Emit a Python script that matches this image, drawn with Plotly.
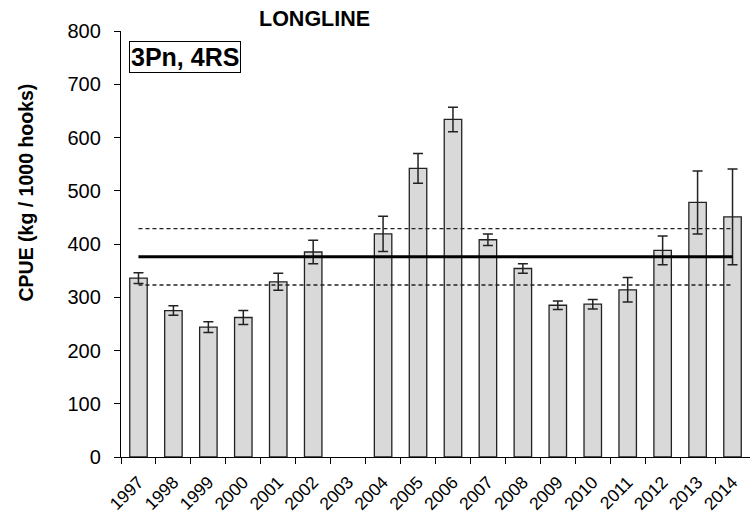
import plotly.graph_objects as go

years = ["1997", "1998", "1999", "2000", "2001", "2002", "2003", "2004", "2005",
         "2006", "2007", "2008", "2009", "2010", "2011", "2012", "2013", "2014"]
cpue = [336, 275, 244, 262, 329, 385, None, 419, 542,
        634, 408, 354, 285, 287, 314, 388, 478, 451]
err = [10, 9, 10, 13, 16, 22, None, 33, 28,
       23, 11, 9, 8, 9, 23, 27, 59, 90]
mean_cpue = 376
ci_upper = 429
ci_lower = 323

FONT = "Liberation Sans, Arial, sans-serif"

fig = go.Figure()
fig.add_trace(go.Bar(
    x=years, y=cpue, width=0.5,
    marker=dict(color="#d9d9d9", line=dict(color="#222222", width=1.3)),
    error_y=dict(type="data", array=err, visible=True, color="#222222",
                 thickness=1.5, width=5),
    showlegend=False,
))
line_x = [years[0], years[-1]]
fig.add_trace(go.Scatter(x=line_x, y=[mean_cpue, mean_cpue], mode="lines",
                         line=dict(color="black", width=3), showlegend=False))
fig.add_trace(go.Scatter(x=line_x, y=[ci_upper, ci_upper], mode="lines",
                         line=dict(color="#222222", width=1.3, dash="4px,3px"), showlegend=False))
fig.add_trace(go.Scatter(x=line_x, y=[ci_lower, ci_lower], mode="lines",
                         line=dict(color="#222222", width=1.3, dash="4px,3px"), showlegend=False))

fig.update_layout(
    width=750, height=516,
    margin=dict(l=121, r=0, t=31, b=59),
    plot_bgcolor="white", paper_bgcolor="white",
    font=dict(family=FONT, color="black"),
    bargap=0.5,
    xaxis=dict(type="category", tickson="boundaries", ticks="outside", ticklen=6,
               tickcolor="black", tickwidth=1.3, showline=True, linecolor="black",
               linewidth=1.3, tickangle=-45, tickfont=dict(size=17.5),
               showgrid=False, automargin=False, ticklabelstandoff=7),
    yaxis=dict(range=[0, 800], dtick=100, ticks="outside", ticklen=6,
               tickcolor="black", tickwidth=1.3, showline=True, linecolor="black",
               linewidth=1.3, tickfont=dict(size=20), showgrid=False,
               zeroline=False, automargin=False, ticklabelstandoff=9),
    annotations=[
        dict(text="<b>LONGLINE</b>", xref="paper", yref="paper",
             x=(314 - 121) / 629, y=(457 - 19) / 426, xanchor="center",
             yanchor="middle", showarrow=False, font=dict(size=21.5)),
        dict(text="<b>3Pn, 4RS</b>", xref="paper", yref="paper",
             x=(129 - 121) / 629, y=(457 - 41) / 426, xanchor="left",
             yanchor="top", showarrow=False, font=dict(size=25),
             bordercolor="black", borderwidth=1, borderpad=1, bgcolor="white"),
        dict(text="<b>CPUE (kg / 1000 hooks)</b>", xref="paper", yref="paper",
             x=(25 - 121) / 629, y=(457 - 192.5) / 426, xanchor="center",
             yanchor="middle", textangle=-90, showarrow=False, font=dict(size=19.5)),
    ],
)

fig.write_html("out.html")
